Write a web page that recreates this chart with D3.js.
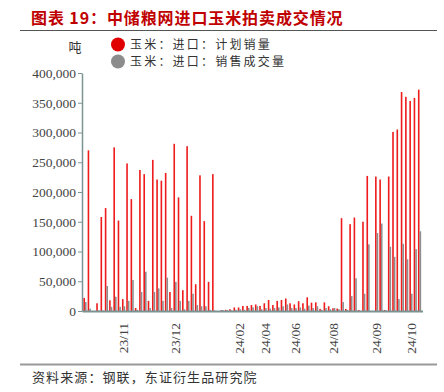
<!DOCTYPE html>
<html><head><meta charset="utf-8">
<script src="https://cdn.jsdelivr.net/npm/d3@7"></script>
<style>
body{margin:0;background:#fff;}
svg{display:block;}
</style></head>
<body>
<svg id="chart" width="444" height="392"></svg>
<script>
const titleText = "图表 19：中储粮网进口玉米拍卖成交情况";
const sourceText = "资料来源：钢联，东证衍生品研究院";
const unitText = "吨";
const seriesNames = ["玉米：进口：计划销量", "玉米：进口：销售成交量"];
const seriesColors = ["#ee1c1c", "#8e8e8e"];
const legendColors = ["#e00000", "#8c8c8c"];

// 计划销量 (tons), one per auction
const planned = [22000,270000,0,13000,158000,173000,18000,275000,152000,20000,
 248000,188000,5000,237000,230000,17000,254000,221000,219000,232000,
 32000,281000,191000,35000,277000,160000,45000,228000,151000,49000,
 230000,0,1500,2000,3000,6000,6000,8500,8500,10000,
 11000,8500,13000,18500,10000,17000,18500,21000,13000,11000,
 16500,13000,23000,14000,14500,3500,14500,8000,4500,4000,
 156000,3500,146000,157000,1700,150000,227000,0,226000,221000,
 1700,226000,301000,305000,368000,360000,353000,358000,372000];
// 销售成交量 (tons)
const deal = [15000,4000,0,1000,1000,42000,7000,24000,7000,8000,
 17000,52000,2000,32000,66000,5000,32000,38000,17000,56000,
 5000,49000,17000,3000,17000,29000,10000,8000,8000,2000,
 1000,0,1500,1500,1000,2000,3000,2000,5000,6000,
 8000,3000,5000,4000,5000,6000,8000,11000,5000,5000,
 6000,4000,9000,5000,8000,2000,5000,3000,5000,3000,
 15000,2000,25000,55000,0,29000,112000,0,131000,147000,
 1000,108000,91000,20000,113000,87000,29000,104000,134000];
const categories = planned.map((_, i) => i);
const tickLabels = ["23/11","23/12","24/02","24/04","24/06","24/08","24/09","24/10"];
const tickAt = [9,21,36,42,49,58,68,76];
const yTicks = [0,50000,100000,150000,200000,250000,300000,350000,400000];

const svg = d3.select("#chart");
const cjk = "'Noto Sans CJK SC', sans-serif";
const serif = "'Liberation Serif', 'Times New Roman', serif";

// title
svg.append("text").attr("x", 31).attr("y", 24)
  .attr("font-family", cjk).attr("font-weight", "bold").attr("font-size", 16)
  .attr("letter-spacing", 0.9).attr("fill", "#c00000").text(titleText);
svg.append("line").attr("x1", 20).attr("x2", 437).attr("y1", 30.5).attr("y2", 30.5)
  .attr("stroke", "#555").attr("stroke-width", 1.2);

const x = d3.scaleBand().domain(categories).range([82, 422.5]).paddingInner(0.25).paddingOuter(0.315);
const xs = d3.scaleBand().domain([0, 1]).range([0, x.bandwidth()]);
const y = d3.scaleLinear().domain([0, 400000]).range([311, 73]);

// bars
const series = [planned, deal];
series.forEach((vals, s) => {
  svg.append("g").selectAll("rect").data(vals).join("rect")
    .attr("x", (d, i) => x(categories[i]) + xs(s))
    .attr("width", xs.bandwidth())
    .attr("y", d => y(d))
    .attr("height", d => y(0) - y(d))
    .attr("fill", seriesColors[s]);
});

// y axis
const yAxis = svg.append("g").attr("transform", "translate(82,0)")
  .call(d3.axisLeft(y).tickValues(yTicks).tickFormat(d3.format(",")).tickSize(4).tickSizeOuter(0).tickPadding(2));
yAxis.select(".domain").attr("stroke", "#7b9393").attr("stroke-width", 1.5);
yAxis.selectAll(".tick line").attr("stroke", "#7b9393");
yAxis.selectAll("text").attr("font-family", serif).attr("font-size", 13.5).attr("fill", "#444");

// x axis
const xAxis = svg.append("g").attr("transform", "translate(0,311)")
  .call(d3.axisBottom(x).tickValues(tickAt).tickFormat((d) => tickLabels[tickAt.indexOf(d)]).tickSize(0).tickSizeOuter(0));
xAxis.select(".domain").attr("stroke", "#7b9393").attr("stroke-width", 2);
xAxis.selectAll("text").attr("font-family", serif).attr("font-size", 13.5).attr("fill", "#444")
  .attr("transform", "rotate(-90)").attr("text-anchor", "end")
  .attr("x", -12).attr("y", 0).attr("dy", "0.35em");

// unit
svg.append("text").attr("x", 75).attr("y", 52).attr("text-anchor", "middle")
  .attr("font-family", cjk).attr("font-size", 13).attr("fill", "#333").text(unitText);

// legend
seriesNames.forEach((n, i) => {
  const g = svg.append("g").attr("transform", `translate(118,${44.5 + i * 17})`);
  g.append("circle").attr("r", 7).attr("fill", legendColors[i]);
  g.append("text").attr("x", 12).attr("y", 4.5).attr("font-family", cjk).attr("font-size", 12)
    .attr("letter-spacing", 2.2).attr("fill", "#333").text(n);
});

// footer
svg.append("line").attr("x1", 20).attr("x2", 437).attr("y1", 364.5).attr("y2", 364.5)
  .attr("stroke", "#999").attr("stroke-width", 2);
svg.append("text").attr("x", 32).attr("y", 382).attr("font-family", cjk).attr("font-size", 13)
  .attr("letter-spacing", 1.1).attr("fill", "#333").text(sourceText);
</script>
</body></html>
